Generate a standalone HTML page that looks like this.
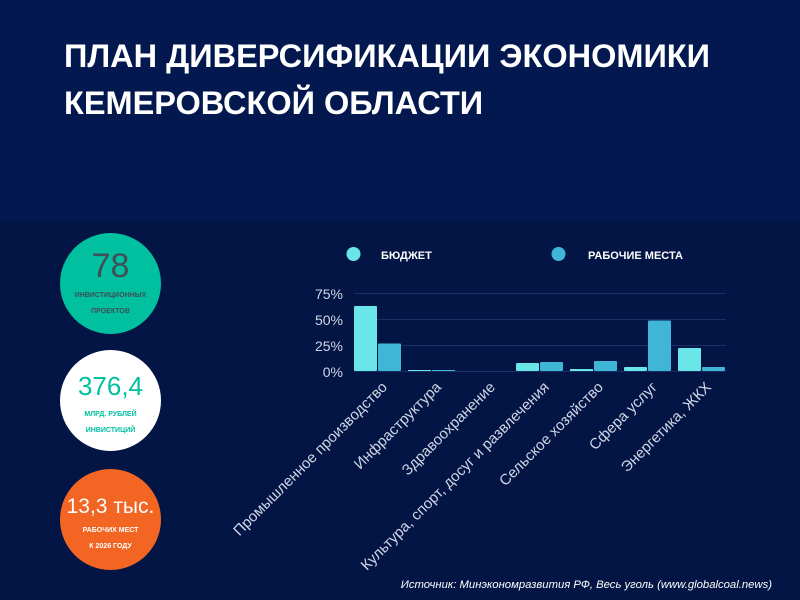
<!DOCTYPE html><html><head><meta charset="utf-8"><style>
body{margin:0;width:800px;height:600px;overflow:hidden;font-family:"Liberation Sans",sans-serif;background:#031544;position:relative}
.hd{position:absolute;left:0;top:0;width:800px;height:222px;background:#03184f}
.t{position:absolute;left:64px;top:33px;color:#fff;font-weight:bold;font-size:32.5px;line-height:47px;letter-spacing:0px}
.c{position:absolute;left:60px;width:101px;height:101px;border-radius:50%;text-align:center}
.big{font-size:34px;line-height:36px}
.sm{font-size:7px;font-weight:bold;line-height:16px}
</style></head><body>
<div class="hd"></div>
<div class="t">ПЛАН ДИВЕРСИФИКАЦИИ ЭКОНОМИКИ<br>КЕМЕРОВСКОЙ ОБЛАСТИ</div>
<div class="c" style="top:233px;background:#00c0a0;color:#3f4f56"><div class="big" style="margin-top:15px">78</div><div class="sm" style="margin-top:4px">ИНВИСТИЦИОННЫХ<br>ПРОЕКТОВ</div></div>
<div class="c" style="top:350px;background:#fff;color:#00c0a0"><div class="big" style="margin-top:18px;font-size:26px">376,4</div><div class="sm" style="margin-top:3px">МЛРД. РУБЛЕЙ<br>ИНВИСТИЦИЙ</div></div>
<div class="c" style="top:469px;background:#f26522;color:#fff"><div style="margin-top:26px;font-size:21px">13,3 тыс.</div><div class="sm" style="margin-top:4px">РАБОЧИХ МЕСТ<br>К 2026 ГОДУ</div></div>
<svg width="800" height="600" style="position:absolute;left:0;top:0" font-family="Liberation Sans, sans-serif">
<circle cx="353.5" cy="254" r="7" fill="#6ae5e8"/><text x="381" y="259" fill="#fff" font-size="11" font-weight="bold">БЮДЖЕТ</text>
<circle cx="558.5" cy="254" r="7" fill="#40b6d6"/><text x="588" y="259" fill="#fff" font-size="11" font-weight="bold">РАБОЧИЕ МЕСТА</text>
<g stroke="#1a2e66" stroke-width="1"><line x1="354" x2="726" y1="293.5" y2="293.5"/><line x1="354" x2="726" y1="319.5" y2="319.5"/><line x1="354" x2="726" y1="345.5" y2="345.5"/><line x1="354" x2="726" y1="371.5" y2="371.5"/></g>
<g fill="#d0d6e6" font-size="14" text-anchor="end"><text x="343" y="299">75%</text><text x="343" y="325">50%</text><text x="343" y="351">25%</text><text x="343" y="377">0%</text></g>
<g fill="#6ae5e8">
<rect x="354" y="306" width="23" height="65" rx="1"/><rect x="408" y="370" width="23" height="1"/><rect x="516" y="363" width="23" height="8" rx="1"/><rect x="570" y="369" width="23" height="2"/><rect x="624" y="367" width="23" height="4" rx="1"/><rect x="678" y="348" width="23" height="23" rx="1"/></g>
<g fill="#40b6d6">
<rect x="378" y="343.5" width="23" height="27.5" rx="1"/><rect x="432" y="370" width="23" height="1"/><rect x="540" y="362" width="23" height="9" rx="1"/><rect x="594" y="361" width="23" height="10" rx="1"/><rect x="648" y="320.5" width="23" height="50.5" rx="1"/><rect x="702" y="367" width="23" height="4" rx="1"/></g>
<g fill="#d0d6e6" font-size="15" text-anchor="end">
<text transform="translate(388,388) rotate(-45)">Промышленное производство</text>
<text transform="translate(442,388) rotate(-45)">Инфраструктура</text>
<text transform="translate(496,388) rotate(-45)">Здравоохранение</text>
<text transform="translate(550,388) rotate(-45)">Культура, спорт, досуг и развлечения</text>
<text transform="translate(604,388) rotate(-45)">Сельское хозяйство</text>
<text transform="translate(658,388) rotate(-45)">Сфера услуг</text>
<text transform="translate(712,388) rotate(-45)">Энергетика, ЖКХ</text>
</g>
<text x="772" y="588" fill="#fff" font-size="11.3" font-style="italic" text-anchor="end">Источник: Минэкономразвития РФ, Весь уголь (www.globalcoal.news)</text>
</svg>
</body></html>
